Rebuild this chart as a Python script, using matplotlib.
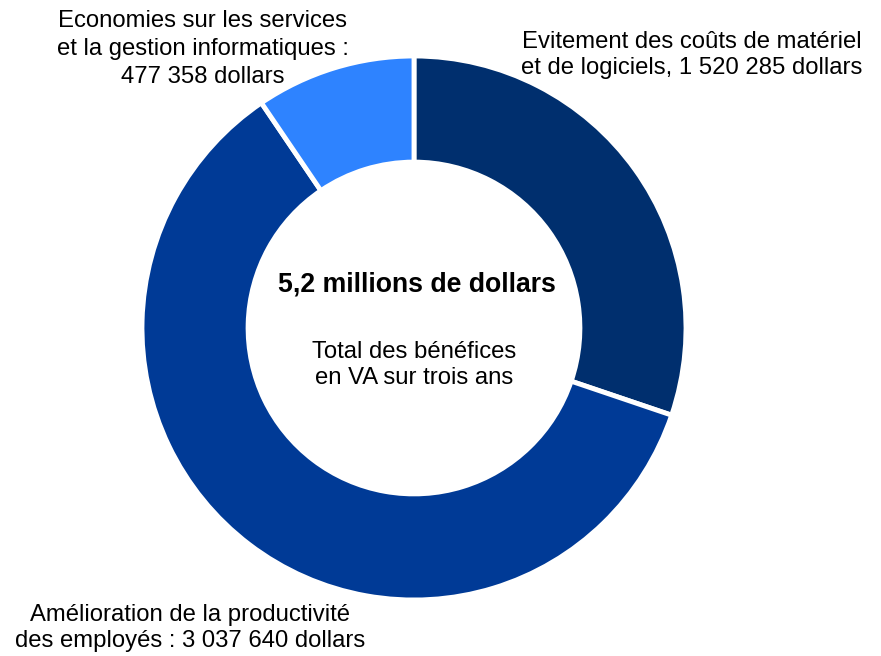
import matplotlib
matplotlib.use("Agg")
import matplotlib.pyplot as plt

labels = ["Evitement des coûts de matériel\net de logiciels, 1 520 285 dollars",
          "Amélioration de la productivité\ndes employés : 3 037 640 dollars",
          "Economies sur les services\net la gestion informatiques :\n477 358 dollars"]
values = [1520285, 3037640, 477358]
colors = ["#002f6e", "#003a96", "#2e83ff"]
center_title = "5,2 millions de dollars"
center_sub = "Total des bénéfices\nen VA sur trois ans"

plt.rcParams['font.family'] = ['Liberation Sans', 'DejaVu Sans']
W, H = 881, 656
fig = plt.figure(figsize=(W/100, H/100), dpi=100)
cx, cy, r = 414, 328, 272
ax = fig.add_axes([(cx - r)/W, (H - cy - r)/H, 2*r/W, 2*r/H])
ax.pie(values, colors=colors, startangle=90, counterclock=False, radius=1,
       wedgeprops=dict(width=0.39, edgecolor="white", linewidth=3.5))
ax.set_xlim(-1, 1); ax.set_ylim(-1, 1)
ax.set_aspect('equal')
ax.axis('off')

def ftext(x, y, s, size=17.2, ls=1.28, **kw):
    fig.text(x/W, 1 - y/H, s, ha='center', va='center', fontsize=size,
             linespacing=ls, **kw)

ftext(692, 55, labels[0])
ftext(190, 628, labels[1])
ftext(203, 49, labels[2], ls=1.34)
ftext(417, 285, center_title, size=19.2, fontweight='bold')
ftext(414, 365, center_sub)

fig.savefig("out.png", dpi=100)
